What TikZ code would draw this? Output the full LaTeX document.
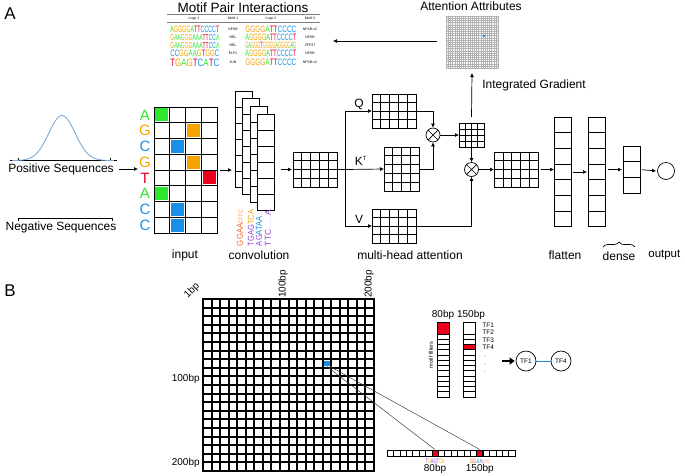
\documentclass[tikz,border=0pt]{standalone}
\usepackage{fontspec}
\setmainfont{Liberation Sans}
\usetikzlibrary{arrows.meta,decorations.pathreplacing}
\definecolor{cA}{HTML}{2EE62E}
\definecolor{cC}{HTML}{1A8FE8}
\definecolor{cG}{HTML}{F5A300}
\definecolor{cT}{HTML}{E8001C}
\definecolor{gausscol}{HTML}{7FAAD6}
\definecolor{lpurple}{HTML}{8E44D8}
\definecolor{lorange}{HTML}{F26A2E}

% coloured sequence logo: A green, C blue, G orange, T red
\newcommand{\logo}[1]{\expandafter\logoscan#1\relax}
\def\logoscan#1{\ifx#1\relax\else\logochar#1\expandafter\logoscan\fi}
\def\logochar#1{\if#1A\textcolor{cA}{A}\fi\if#1C\textcolor{cC}{C}\fi\if#1G\textcolor{cG}{G}\fi\if#1T\textcolor{cT}{T}\fi}

% name, x, y (top left), columns, rows, cell width, cell height
\newcommand{\gridbox}[7]{%
  \node[gridcell, minimum width={#4*#6pt}, minimum height={#5*#7pt}] (#1) at (#2,#3) {};
  \pgfmathtruncatemacro\gbc{#4-1}%
  \pgfmathtruncatemacro\gbr{#5-1}%
  \ifnum\gbc>0 \foreach \i in {1,...,\gbc} \draw ({#2+\i*#6},#3) -- ++(0,{#5*#7});\fi
  \ifnum\gbr>0 \foreach \j in {1,...,\gbr} \draw (#2,{#3+\j*#7}) -- ++({#4*#6},0);\fi
}

\tikzset{
  gridcell/.style={draw, fill=white, inner sep=0pt, outer sep=0pt, anchor=north west},
  arr/.style={-{Latex[length=4pt,width=4pt]}},
  lbl/.style={font=\fontsize{12}{14}\selectfont, inner sep=0pt},
  bplbl/.style={font=\fontsize{10}{12}\selectfont, inner sep=0pt},
  tinylbl/.style={font=\fontsize{3.5}{4}\selectfont, inner sep=0pt},
  mult/.style={circle, draw, minimum size=14pt, inner sep=0pt, path picture={
    \draw (path picture bounding box.north west) -- (path picture bounding box.south east)
          (path picture bounding box.north east) -- (path picture bounding box.south west);}},
  tfnode/.style={circle, draw, minimum size=20pt, inner sep=0pt, font=\fontsize{6.5}{7}\selectfont},
}

\begin{document}
\begin{tikzpicture}[x=1pt,y=-1pt,line width=0.7pt]
\useasboundingbox (0,0) rectangle (685,475);
\node[font=\fontsize{17}{18}\selectfont] (pa) at (10,14) {A};
\node[font=\fontsize{17}{18}\selectfont] (pb) at (10,291) {B};

% motif pair table
\node[font=\fontsize{13.5}{15}\selectfont, inner sep=0pt] (mpi) at (243,7.5) {Motif Pair Interactions};
\draw[gray, line width=0.8pt] (167,14.5) -- (320,14.5);
\draw[gray, line width=0.4pt] (167,22) -- (320,22);
\foreach \x/\t in {194/Logo 1,233/Motif 1,271/Logo 2,310/Motif 2} \node[tinylbl] at (\x,18.5) {\t};
\foreach \y/\h/\la/\ma/\lb/\mb in {29/6.5/AGGGGATTCCCCT/NFKB/GGGGATTCCCC/NFKB-v2,
    37.5/6/GAAGGGAAATTCCA/REL/AGGGGATTCCCCT/NFKB,
    45.5/6/GAAGGGAAATTCCA/REL/GAGGGTGGGGAGGGGAG/ZFP37,
    53.5/6.5/CCGGAAGTGGC/ELF1/AGGGGATTCCCCT/NFKB,
    62.5/7.5/TGAGTCATC/JUN/GGGGATTCCCC/NFKB-v2} {
  \node[anchor=west, inner sep=0pt] at (170,\y) {\resizebox{49pt}{\h pt}{\logo{\la}}};
  \node[tinylbl] at (233,\y) {\ma};
  \node[anchor=west, inner sep=0pt] at (245,\y) {\resizebox{51pt}{6.5pt}{\logo{\lb}}};
  \node[tinylbl] at (310,\y) {\mb};
}

% attention attributes
\node[lbl] (attt) at (471,6.5) {Attention Attributes};
\begin{scope}[gray!60, line width=0.25pt]
\gridbox{amap}{446}{16}{24}{24}{2.1667}{2.1667}
\end{scope}
\fill[cC] (483,35) rectangle ++(2.2,2.2);
\coordinate (fromattn) at (437,41);
\coordinate (tomotif) at (333,41);
\draw[arr] (fromattn) -- (tomotif);

% sequences
\draw (10,160.5) -- (117,160.5);
\foreach \x in {18,110} \draw (\x,160.5) -- (\x,157.5);
\draw[gausscol, line width=0.9pt] plot[domain=12:114, smooth, samples=60] (\x,{160.5-45*exp(-0.5*((\x-62)/13.2)^2)});
\node[lbl] (pos) at (61,169) {Positive Sequences};
\draw (18,218) -- (112,218);
\foreach \x in {18,112} \draw (\x,218) -- (\x,221);
\node[lbl] (neg) at (61,227) {Negative Sequences};

% input
\begin{scope}[line width=0.95pt]
\gridbox{inp}{154}{107}{4}{8}{15.75}{15.75}
\end{scope}
\foreach \r/\k/\c in {0/0/cA,1/2/cG,2/1/cC,3/2/cG,4/3/cT,5/0/cA,6/1/cC,7/1/cC}
  \fill[\c] ({154+15.75*\k+1.4},{107+15.75*\r+1.4}) rectangle ++(12.95,12.95);
\foreach \l/\c [count=\i from 0] in {A/cA,G/cG,C/cC,G/cG,T/cT,A/cA,C/cC,C/cC}
  \node[text=\c, font=\fontsize{15}{16}\selectfont, inner sep=0pt] at (145,{114.9+15.75*\i}) {\l};
\coordinate (inin) at (138,169);
\draw[arr] ([xshift=5pt]pos.east) -- (inin);
\node[lbl] (inlbl) at (185,255) {input};

% convolution
\begin{scope}[line width=0.95pt]
\foreach \k in {0,...,3} {\gridbox{conv\k}{235+7.5*\k}{91+7.7*\k}{1}{6}{17}{16}}
\end{scope}
\draw[arr] ([xshift=3pt]inp.east) -- ([xshift=-3pt]conv0.west |- inp.east);
\node[rotate=90] (lg1) at (240,228) {\resizebox{36pt}{6pt}{\textcolor{lorange}{GGAA}\textcolor{lorange!60}{crrc}}};
\node[rotate=90] (lg2) at (251,228) {\resizebox{36pt}{6pt}{\textcolor{lpurple}{TGAG}\textcolor{cG}{TCA}}};
\node[rotate=90] (lg3) at (259,228) {\resizebox{36pt}{6pt}{\textcolor{lpurple}{AG}\textcolor{cC}{ATAA}\textcolor{lpurple!50}{...}}};
\node[rotate=90] (lg4) at (268,228) {\resizebox{36pt}{6pt}{\textcolor{lpurple}{TTC}\textcolor{lpurple!40}{......}\textcolor{lpurple}{A}}};
\node[lbl] (convlbl) at (259,255) {convolution};

% multi-head attention
\gridbox{feat}{293}{152}{5}{4}{8.8}{8.75}
\draw[arr] ([xshift=6pt]conv3.east |- feat.west) -- ([xshift=-1pt]feat.west);
\coordinate (jn) at (345,169.5);
\gridbox{qbox}{372}{94}{5}{4}{8.8}{8.5}
\gridbox{kbox}{384}{147}{4}{5}{8.75}{8.8}
\gridbox{vbox}{372}{209}{5}{4}{8.8}{8.5}
\draw (feat.east) -- (jn);
\draw[arr] (jn) |- (qbox.west);
\draw[arr] (jn) -- (kbox.west);
\draw[arr] (jn) |- (vbox.west);
\node[lbl] (ql) at (359,104) {Q};
\node[lbl] (kl) at (361,161) {K\textsuperscript{\fontsize{6}{6}\selectfont T}};
\node[lbl] (vl) at (359,219) {V};
\node[mult] (m1) at (433,135) {};
\gridbox{attn}{459}{123}{4}{4}{6.25}{6}
\node[mult] (m2) at (471.5,169.5) {};
\gridbox{ctx}{494}{152}{5}{4}{8.9}{8.75}
\draw[arr] (qbox.east) -| (m1.north);
\draw[arr] (kbox.east) -| (m1.south);
\draw[arr] (m1.east) -- (attn.west);
\draw[arr] (attn.south) -- (m2.north);
\draw[arr] (vbox.east) -| (m2.south);
\draw[arr] (m2.east) -- (ctx.west);
\draw[arr] ([yshift=6pt]attn.north) -- ([yshift=-5pt]amap.south);
\node[lbl, anchor=west] (iglbl) at (482,85) {Integrated Gradient};
\node[lbl] (mhlbl) at (410,255) {multi-head attention};

% flatten, dense, output
\begin{scope}[line width=0.95pt]
\gridbox{flat}{554}{117}{1}{7}{17}{15.7}
\gridbox{dns}{588}{117}{1}{7}{17.5}{15.7}
\gridbox{dnsb}{623}{146}{1}{3}{17}{15.7}
\end{scope}
\node[circle, draw, minimum size=17pt, inner sep=0pt] (out) at (666,171) {};
\draw[arr, shorten <=2pt] (ctx.east) -- (flat.west |- ctx.east);
\draw[arr, shorten <=2pt, shorten >=1pt] (flat.east) -- (dns.west);
\draw[arr, shorten <=2pt, shorten >=1pt] (dns.east |- dnsb.west) -- (dnsb.west);
\draw[arr, shorten <=2pt, shorten >=1pt] (dnsb.east) -- (out.west);
\draw[decorate, decoration={brace, amplitude=5pt}] (603,247) -- (635,247);
\node[lbl] (fllbl) at (565,255) {flatten};
\node[lbl] (dnlbl) at (619,256) {dense};
\node[lbl, anchor=west, font=\fontsize{11.5}{13}\selectfont] (outlbl) at (648,255) {output};

% B: attention map of one head
\begin{scope}[line width=2pt]
\gridbox{hm}{203}{299}{20}{20}{8.55}{8.6}
\end{scope}
\node[fill=cC, minimum size=5.5pt, inner sep=0pt] (hit) at (327,363.5) {};
\node[bplbl, rotate=45] (b1) at (192,291) {1bp};
\node[bplbl, rotate=90] (b100) at (283,284) {100bp};
\node[bplbl, rotate=90] (b200) at (369,284) {200bp};
\node[bplbl, anchor=east] (l100) at (200,379) {100bp};
\node[bplbl, anchor=east] (l200) at (200,463) {200bp};

% sequence strip
\begin{scope}[line width=0.6pt]
\gridbox{strip}{387}{450}{20}{1}{6.4}{6}
\end{scope}
\node[draw, fill=cT, minimum size=6pt, inner sep=0pt, line width=1pt] (r80) at (435,453) {};
\node[draw, fill=cT, minimum size=6pt, inner sep=0pt, line width=1pt] (r150) at (479.8,453) {};
\draw[black!75, line width=0.5pt] (hit.south) -- (r80.north);
\draw[black!75, line width=0.5pt] (hit.south east) -- (r150.north);
\node[inner sep=0pt] (s80) at (435,461.5) {\resizebox{19pt}{4.5pt}{\textcolor{lpurple}{T}\textcolor{cG}{G}\textcolor{lpurple}{AGT}\textcolor{cG}{CA}}};
\node[inner sep=0pt] (s150) at (479.8,461.5) {\resizebox{20pt}{4.5pt}{\textcolor{lorange}{GG}\textcolor{cC}{AA}\textcolor{lorange!70}{crrc}}};
\node[bplbl] (t80) at (435,469) {80bp};
\node[bplbl] (t150) at (479.8,469) {150bp};

% motif filters
\node[bplbl] (h80) at (443,315) {80bp};
\node[bplbl] (h150) at (471,315) {150bp};
\foreach \n/\x in {f80/437,f150/463} {
  \node[gridcell, minimum width=12pt, minimum height=75pt] (\n) at (\x,322) {};
  \foreach \j in {0,...,11} \draw (\x,{334+5.25*\j}) -- ++(12,0);
}
\fill[cT] (437.5,322.5) rectangle (448.5,333.6);
\fill[cT] (463.5,345) rectangle (474.5,349.2);
\node[font=\fontsize{5.5}{6}\selectfont, rotate=90, inner sep=0pt] (mf) at (431,355) {motif filters};
\foreach \t/\y in {TF1/325,TF2/332.5,TF3/340,TF4/347.5}
  \node[font=\fontsize{6.5}{7}\selectfont, anchor=west, inner sep=0pt] at (482,\y) {\t};
\foreach \y in {356,364,371} \fill (485,\y) circle (0.4);
\node[tfnode] (tf1) at (526,361) {TF1};
\node[tfnode] (tf4) at (561,361) {TF4};
\coordinate (toarr) at (502,361);
\draw[line width=2pt, -{Triangle[length=5pt,width=7pt]}] (toarr) -- ([xshift=-1pt]tf1.west);
\draw[cC] (tf1) -- (tf4);
\end{tikzpicture}
\end{document}
